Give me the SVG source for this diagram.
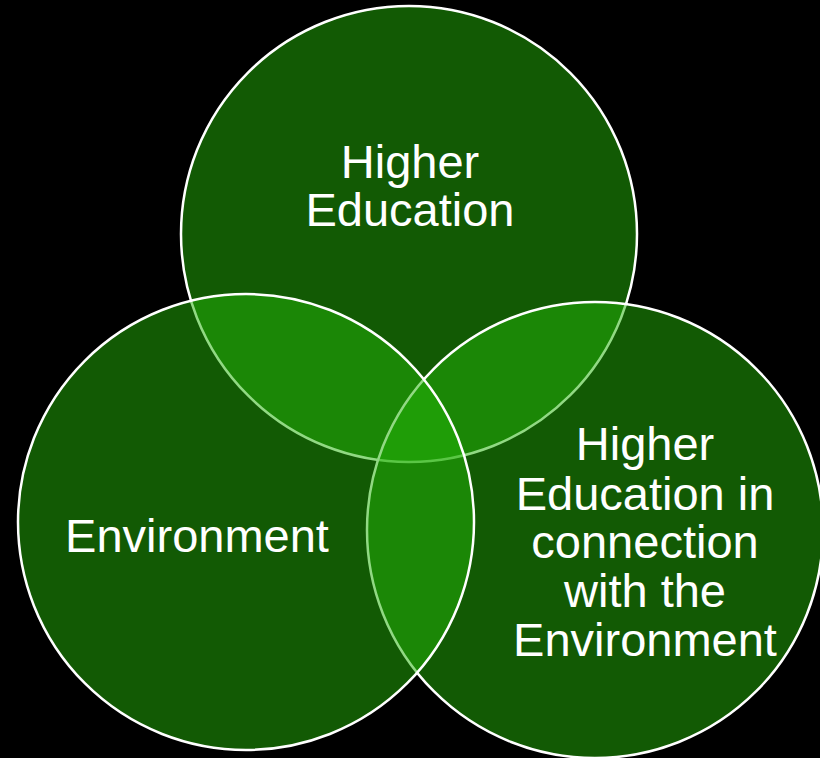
<svg xmlns="http://www.w3.org/2000/svg" width="820" height="758" viewBox="0 0 820 758">
<style>
.c{fill:#24B408;fill-opacity:0.5;stroke:#fff;stroke-width:2.5}
.t{font-family:"Liberation Sans",Arial,sans-serif;font-size:47px;fill:#fff;text-anchor:middle}
</style>
<rect width="820" height="758" fill="#000"/>
<g id="top">
<circle class="c" cx="409" cy="234" r="228"/>
</g>
<g id="right">
<circle class="c" cx="595" cy="530" r="228"/>
</g>
<g id="left">
<circle class="c" cx="246" cy="522" r="228"/>
</g>
<g id="connectors"></g>
<g id="labels">
<text class="t" x="410" y="178">Higher</text>
<text class="t" x="410" y="226">Education</text>
<text class="t" x="197" y="552">Environment</text>
<text class="t" x="645" y="460">Higher</text>
<text class="t" x="645" y="510">Education in</text>
<text class="t" x="645" y="558">connection</text>
<text class="t" x="645" y="607">with the</text>
<text class="t" x="645" y="656">Environment</text>
</g>
</svg>
